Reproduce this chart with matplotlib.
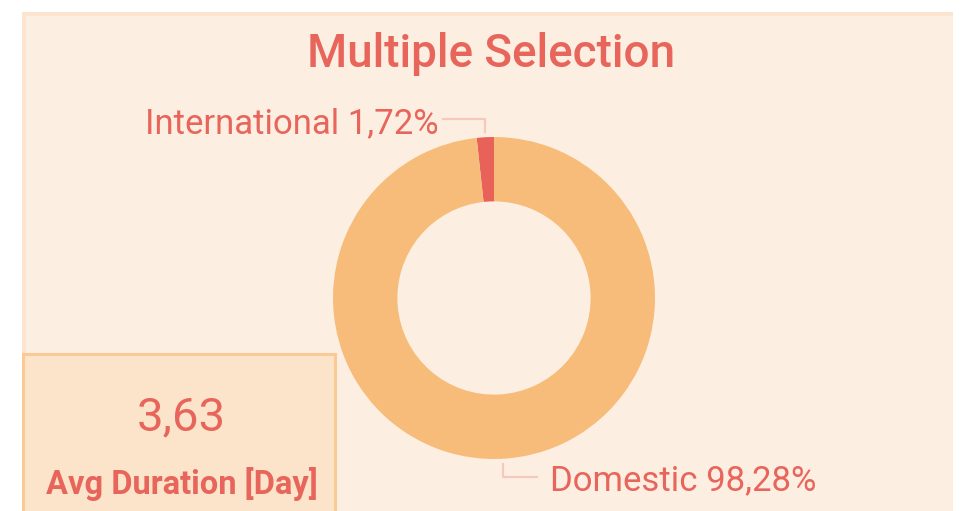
import numpy as np
import matplotlib
matplotlib.use("Agg")
import matplotlib.pyplot as plt
from matplotlib.patches import Rectangle

plt.rcParams['font.family'] = ['Roboto', 'DejaVu Sans']

# data
categories = ['International', 'Domestic']
shares = [1.72, 98.28]
slice_colors = ['#E8625A', '#F7BC7A']
avg_duration = 3.63
kpi_label = 'Avg Duration [Day]'
title = 'Multiple Selection'

TEXT = '#E8655C'
LINE = '#F5C9BD'

W, H = 969, 511
fig = plt.figure(figsize=(W / 100, H / 100), dpi=100)
fig.patch.set_facecolor('white')

# background axes in pixel coords
bg = fig.add_axes([0, 0, 1, 1])
bg.set_xlim(0, W)
bg.set_ylim(H, 0)
bg.axis('off')
bg.add_patch(Rectangle((22, 12), 953 - 22, H - 12, facecolor='#FCEFE2', edgecolor='none'))
bg.add_patch(Rectangle((22, 12), 953 - 22, 4, facecolor='#FBE5D0', edgecolor='none'))
bg.add_patch(Rectangle((22, 12), 4, H - 12, facecolor='#FBE5D0', edgecolor='none'))
bg.add_patch(Rectangle((23, 354), 312, 170, facecolor='#FBE4CA', edgecolor='#FBC995', linewidth=2.2))

bg.text(491, 67, title, ha='center', va='baseline', fontsize=33, color=TEXT, fontweight='medium')

fmt = lambda v: f'{v:.2f}'.replace('.', ',')
bg.text(181, 430, fmt(avg_duration), ha='center', va='baseline', fontsize=34, color=TEXT)
bg.text(182, 494, kpi_label, ha='center', va='baseline', fontsize=23.5, color=TEXT, fontweight='bold')

# donut
cx, cy, r = 494, 298, 161
ax = fig.add_axes([(cx - r) / W, (H - cy - r) / H, 2 * r / W, 2 * r / H])
wedges, _ = ax.pie(shares, colors=slice_colors, startangle=90, counterclock=True,
                   radius=1.0, wedgeprops=dict(width=0.4, edgecolor='none'))
ax.set_xlim(-1, 1)
ax.set_ylim(-1, 1)
ax.axis('off')

for w, name, val in zip(wedges, categories, shares):
    mid = np.deg2rad((w.theta1 + w.theta2) / 2)
    x0, y0 = np.cos(mid) * 1.03, np.sin(mid) * 1.03
    side = 1 if y0 > 0 else -1
    ye = y0 + side * 0.085
    xe = x0 + (-0.26 if side > 0 else 0.21)
    ax.plot([x0, x0, xe], [y0, ye, ye], color=LINE, lw=1.6, clip_on=False)
    txt = f'{name} {fmt(val)}%'
    if side > 0:
        ax.text(xe - 0.03, ye - 0.09, txt, ha='right', va='baseline', fontsize=25, color=TEXT)
    else:
        ax.text(xe + 0.08, ye - 0.08, txt, ha='left', va='baseline', fontsize=25, color=TEXT)

fig.savefig('out.png', dpi=100, facecolor='white')
